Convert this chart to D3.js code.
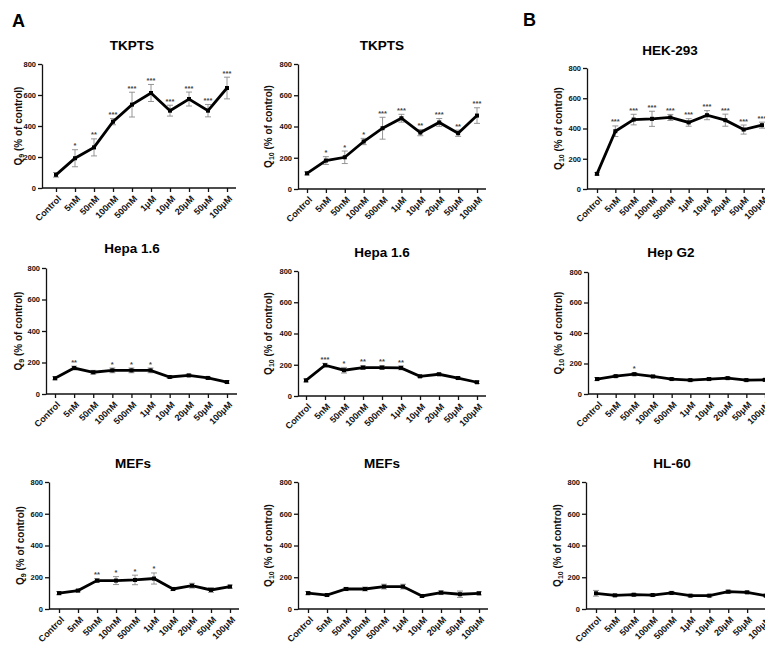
<!DOCTYPE html>
<html>
<head>
<meta charset="utf-8">
<script src="https://cdn.jsdelivr.net/npm/d3@7"></script>
<style>
  body { margin: 0; background: #fff; }
  svg { display: block; font-family: "Liberation Sans", Arial, sans-serif; }
</style>
</head>
<body>
<svg id="chart" width="765" height="648"></svg>
<script>
// ---------- data ----------
const categories = ["Control", "5nM", "50nM", "100nM", "500nM", "1\u03BCM", "10\u03BCM", "20\u03BCM", "50\u03BCM", "100\u03BCM"];
const yTicks = [0, 200, 400, 600, 800];

const panelTitles = ["TKPTS", "TKPTS", "HEK-293", "Hepa 1.6", "Hepa 1.6", "Hep G2", "MEFs", "MEFs", "HL-60"];
const panelQ = ["9", "10", "10", "9", "10", "10", "9", "10", "10"];
const sectionLetters = ["A", "B"];

const tkptsQ9      = [85, 192, 262, 428, 538, 613, 499, 574, 499, 645];
const tkptsQ9Err   = [15, 55, 55, 20, 80, 55, 35, 45, 40, 70];
const tkptsQ9Sig   = ["", "*", "**", "***", "***", "***", "***", "***", "***", "***"];

const tkptsQ10     = [100, 182, 203, 304, 389, 453, 361, 426, 357, 470];
const tkptsQ10Err  = [10, 25, 40, 20, 70, 25, 20, 25, 20, 50];
const tkptsQ10Sig  = ["", "*", "*", "*", "***", "***", "**", "***", "**", "***"];

const hekQ10       = [100, 382, 459, 464, 473, 440, 488, 455, 393, 422];
const hekQ10Err    = [8, 35, 35, 50, 20, 25, 30, 40, 30, 20];
const hekQ10Sig    = ["", "***", "***", "***", "***", "***", "***", "***", "***", "***"];

const hepaQ9       = [100, 165, 138, 150, 150, 150, 108, 118, 102, 76];
const hepaQ9Err    = [10, 12, 12, 15, 15, 15, 8, 8, 8, 8];
const hepaQ9Sig    = ["", "**", "", "*", "*", "*", "", "", "", ""];

const hepaQ10      = [100, 197, 165, 182, 182, 180, 126, 139, 115, 88];
const hepaQ10Err   = [10, 12, 18, 12, 12, 12, 8, 8, 8, 8];
const hepaQ10Sig   = ["", "***", "*", "**", "**", "**", "", "", "", ""];

const hepg2Q10     = [98, 117, 130, 115, 98, 91, 98, 104, 91, 93];
const hepg2Q10Err  = [10, 8, 10, 8, 8, 8, 8, 8, 8, 8];
const hepg2Q10Sig  = ["", "", "*", "", "", "", "", "", "", ""];

const mefQ9        = [100, 116, 179, 179, 183, 192, 126, 147, 120, 141];
const mefQ9Err     = [10, 8, 12, 25, 30, 35, 10, 15, 15, 10];
const mefQ9Sig     = ["", "", "**", "*", "*", "*", "", "", "", ""];

const mefQ10       = [100, 88, 126, 126, 141, 141, 82, 103, 93, 99];
const mefQ10Err    = [10, 8, 10, 12, 15, 15, 8, 12, 20, 10];
const mefQ10Sig    = ["", "", "", "", "", "", "", "", "", ""];

const hl60Q10      = [99, 86, 90, 88, 101, 84, 84, 109, 105, 84];
const hl60Q10Err   = [18, 8, 8, 8, 10, 8, 8, 10, 8, 8];
const hl60Q10Sig   = ["", "", "", "", "", "", "", "", "", ""];

const seriesValues = [tkptsQ9, tkptsQ10, hekQ10, hepaQ9, hepaQ10, hepg2Q10, mefQ9, mefQ10, hl60Q10];
const seriesErrors = [tkptsQ9Err, tkptsQ10Err, hekQ10Err, hepaQ9Err, hepaQ10Err, hepg2Q10Err, mefQ9Err, mefQ10Err, hl60Q10Err];
const seriesSig    = [tkptsQ9Sig, tkptsQ10Sig, hekQ10Sig, hepaQ9Sig, hepaQ10Sig, hepg2Q10Sig, mefQ9Sig, mefQ10Sig, hl60Q10Sig];

// ---------- layout (pixel geometry per panel) ----------
// [axisX, firstX, lastX, axisEndX, yTop(800), yBottom(0), titleX, titleY, ylabelX]
const layout = [
  [42, 56, 227, 236, 64, 188, 132, 50, 18],
  [298, 307, 477, 486, 64, 189, 382, 50, 268],
  [587, 597, 762, 775, 68, 189, 670, 55, 558],
  [46, 55, 227, 237, 268, 394, 132, 253, 18],
  [298, 306, 477, 486, 271, 396, 382, 257, 268],
  [588, 597, 765, 775, 272, 394, 671, 257, 558],
  [49, 59, 230, 239, 482, 609, 133, 468, 20],
  [298, 308, 479, 488, 482, 609, 382, 468, 268],
  [586, 596, 766, 775, 482, 609, 672, 468, 557]
];

const svg = d3.select("#chart");

svg.append("text").attr("x", 12).attr("y", 27).attr("font-size", 18).attr("font-weight", "bold").text(sectionLetters[0]);
svg.append("text").attr("x", 523).attr("y", 26).attr("font-size", 18).attr("font-weight", "bold").text(sectionLetters[1]);

seriesValues.forEach((vals, i) => {
  const [ax, fx, lx, ex, yt, yb, tx, ty, ylx] = layout[i];
  const x = d3.scalePoint().domain(categories).range([fx, lx]);
  const y = d3.scaleLinear().domain([0, 800]).range([yb, yt]);
  const g = svg.append("g");

  // title
  g.append("text").attr("x", tx).attr("y", ty).attr("text-anchor", "middle")
    .attr("font-size", 13.5).attr("font-weight", "bold").text(panelTitles[i]);

  // y axis
  const yAxis = g.append("g").attr("transform", `translate(${ax},0)`)
    .call(d3.axisLeft(y).tickValues(yTicks).tickSize(4).tickSizeOuter(0).tickPadding(2));
  yAxis.select(".domain").attr("stroke", "#111").attr("stroke-width", 1.3);
  yAxis.selectAll("line").attr("stroke", "#111").attr("stroke-width", 1.3);
  yAxis.selectAll("text").attr("font-size", 7.5).attr("font-weight", "bold").attr("fill", "#111")
    .attr("font-family", "Liberation Sans, Arial, sans-serif");

  // x axis
  const xAxis = g.append("g").attr("transform", `translate(0,${yb})`)
    .call(d3.axisBottom(x).tickSize(4).tickSizeOuter(0));
  xAxis.select(".domain").remove();
  xAxis.append("line").attr("x1", ax).attr("x2", ex).attr("y1", 0).attr("y2", 0)
    .attr("stroke", "#111").attr("stroke-width", 1.3);
  xAxis.selectAll(".tick line").attr("stroke", "#111").attr("stroke-width", 1.3);
  xAxis.selectAll(".tick text")
    .attr("x", 0).attr("y", 0).attr("dy", "0.35em")
    .attr("text-anchor", "end")
    .attr("transform", "translate(3,9) rotate(-45)")
    .attr("font-size", 9).attr("font-weight", "bold").attr("fill", "#111")
    .attr("font-family", "Liberation Sans, Arial, sans-serif");

  // y label
  const yl = g.append("text")
    .attr("transform", `translate(${ylx + 3.5},${(yt + yb) / 2}) rotate(-90)`)
    .attr("text-anchor", "middle").attr("font-size", 10).attr("font-weight", "bold").attr("fill", "#111");
  yl.append("tspan").text("Q");
  yl.append("tspan").attr("font-size", 7).attr("dy", 2.5).text(panelQ[i]);
  yl.append("tspan").attr("dy", -2.5).text(" (% of control)");

  const errs = seriesErrors[i];
  const sig = seriesSig[i];
  const data = vals.map((v, k) => ({ c: categories[k], v, e: errs[k], s: sig[k] }));

  // error bars
  const eb = g.append("g").attr("stroke", "#8a8a8a").attr("stroke-width", 0.9);
  data.forEach(d => {
    const cx = x(d.c);
    eb.append("line").attr("x1", cx).attr("x2", cx).attr("y1", y(d.v - d.e)).attr("y2", y(d.v + d.e));
    eb.append("line").attr("x1", cx - 3).attr("x2", cx + 3).attr("y1", y(d.v + d.e)).attr("y2", y(d.v + d.e));
    eb.append("line").attr("x1", cx - 3).attr("x2", cx + 3).attr("y1", y(d.v - d.e)).attr("y2", y(d.v - d.e));
  });

  // line
  g.append("path").datum(data)
    .attr("fill", "none").attr("stroke", "#000").attr("stroke-width", 2.8).attr("stroke-linejoin", "miter")
    .attr("d", d3.line().x(d => x(d.c)).y(d => y(d.v)));

  // points
  g.selectAll(null).data(data).enter().append("rect")
    .attr("x", d => x(d.c) - 2).attr("y", d => y(d.v) - 2)
    .attr("width", 4).attr("height", 4).attr("fill", "#000");

  // significance stars
  g.selectAll(null).data(data.filter(d => d.s)).enter().append("text")
    .attr("x", d => x(d.c)).attr("y", d => y(d.v + d.e) - 1.5)
    .attr("text-anchor", "middle").attr("font-size", 7.5).attr("font-weight", "bold").attr("fill", "#444")
    .text(d => d.s);
});
</script>
</body>
</html>
